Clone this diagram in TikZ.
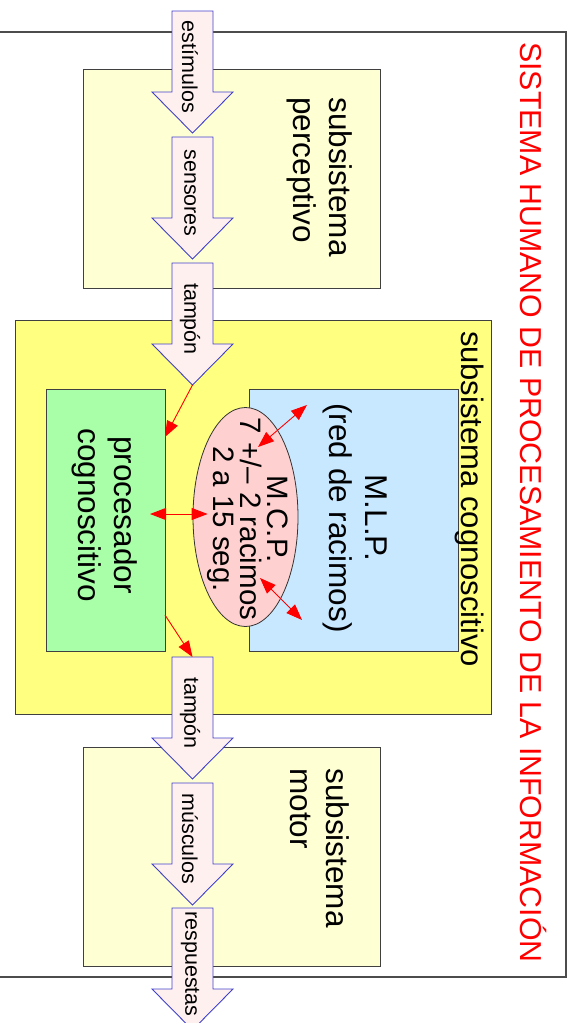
\documentclass[tikz,border=0pt]{standalone}
\usepackage{fontspec}
\setmainfont{Liberation Sans}
\usetikzlibrary{arrows.meta,calc,shapes.geometric}

\definecolor{paleyellow}{RGB}{255,255,212}
\definecolor{cogyellow}{RGB}{255,255,128}
\definecolor{procgreen}{RGB}{168,255,168}
\definecolor{mlpblue}{RGB}{200,232,255}
\definecolor{mcppink}{RGB}{255,208,208}
\definecolor{arrowfill}{RGB}{255,240,240}
\definecolor{arrowline}{RGB}{64,64,204}

\tikzset{
  box/.style={draw=black!75, line width=1pt, inner sep=0pt, outer sep=0pt},
  bigtext/.style={rotate=-90, align=center, inner sep=0pt,
    font=\fontsize{31.5}{36}\selectfont},
  leftbigtext/.style={bigtext, align=left},
  arrowtext/.style={rotate=-90, inner sep=0pt,
    font=\fontsize{21.5}{25}\selectfont},
  blockarrow/.style={draw=arrowline, fill=arrowfill, line width=0.9pt,
    line join=miter},
  onelink/.style={red, line width=0.9pt, -{Triangle[length=16pt,width=12pt]}},
  twolink/.style={red, line width=0.9pt,
    {Triangle[length=16pt,width=12pt]}-{Triangle[length=16pt,width=12pt]}},
}

\begin{document}
\begin{tikzpicture}[x=1pt,y=-1pt]
  \useasboundingbox (0,0) rectangle (574,1023);
  \clip (0,0) rectangle (574,1023);

  % outer frame of the whole system
  \draw[black!70, line width=1.3pt] (-10,32) rectangle (566,977);

  % subsystems
  \node[box, fill=paleyellow, minimum width=297, minimum height=219]
    (percep) at (231.5,178.5) {};
  \node[box, fill=cogyellow, minimum width=476, minimum height=394]
    (cog) at (253,517) {};
  \node[box, fill=procgreen, minimum width=119, minimum height=262]
    (proc) at (105.5,520) {};
  \node[box, fill=mlpblue, minimum width=209, minimum height=262]
    (mlp) at (353.5,520) {};
  \node[box, fill=paleyellow, minimum width=297, minimum height=219]
    (motor) at (231.5,856.5) {};
  \node[ellipse, draw=black!80, line width=0.8pt, fill=mcppink,
    inner sep=0pt, minimum width=105, minimum height=219]
    (mcp) at (245.5,517) {};

  % labels
  \node[rotate=-90, red, inner sep=0pt, font=\fontsize{30.3}{36}\selectfont]
    (title) at (533,502.5) {SISTEMA HUMANO DE PROCESAMIENTO DE LA INFORMACIÓN};
  \node[leftbigtext] (perceplabel) at (320,177) {subsistema\\perceptivo};
  \node[leftbigtext] (motorlabel) at (320,848) {subsistema\\motor};
  \node[bigtext, font=\fontsize{31}{36}\selectfont]
    (coglabel) at (470,499) {subsistema cognoscitivo};
  \node[bigtext] (mlplabel) at (355,518) {M.L.P.\\(red de racimos)};
  \node[bigtext] (proclabel) at (105,515) {procesador\\cognoscitivo};
  \node[rotate=-90, align=center, inner sep=0pt,
    font=\fontsize{29.5}{27}\selectfont]
    (mcplabel) at (248,519) {M.C.P.\\7 +/– 2 racimos\\2 a 15 seg.};

  % flow of information: block arrows
  \foreach \ytop/\txt/\nm in {11/estímulos/a1, 137/sensores/a2,
      263/tampón/a3, 657/tampón/a4, 783/músculos/a5, 908/respuestas/a6} {
    \draw[blockarrow] (172,\ytop) -- (213,\ytop) -- (213,{\ytop+81})
      -- (233,{\ytop+81}) -- (192.5,{\ytop+122}) -- (152,{\ytop+81})
      -- (172,{\ytop+81}) -- cycle;
    \node[arrowtext] (\nm) at (190,{\ytop+56}) {\txt};
    \coordinate (\nm top) at (192.5,\ytop);
    \coordinate (\nm tip) at (192.5,{\ytop+122});
  }

  % exchanges inside the cognitive subsystem
  \draw[onelink] (a3tip) -- ($(proc.north east)+(0,48)$);
  \draw[twolink] ($(mcp.west -| proc.east)+(-15,-3)$)
    -- ($(mcp.west)+(15,-3)$);
  \draw[twolink] ([shift={(12.5,-70)}]mcp.center)
    -- ([shift={(61.5,-112)}]mcp.center);
  \draw[twolink] ([shift={(14.5,61)}]mcp.center)
    -- ([shift={(56.5,103)}]mcp.center);
  \draw[onelink] ($(proc.south east)+(0,-36)$) -- (a4top);
\end{tikzpicture}
\end{document}
